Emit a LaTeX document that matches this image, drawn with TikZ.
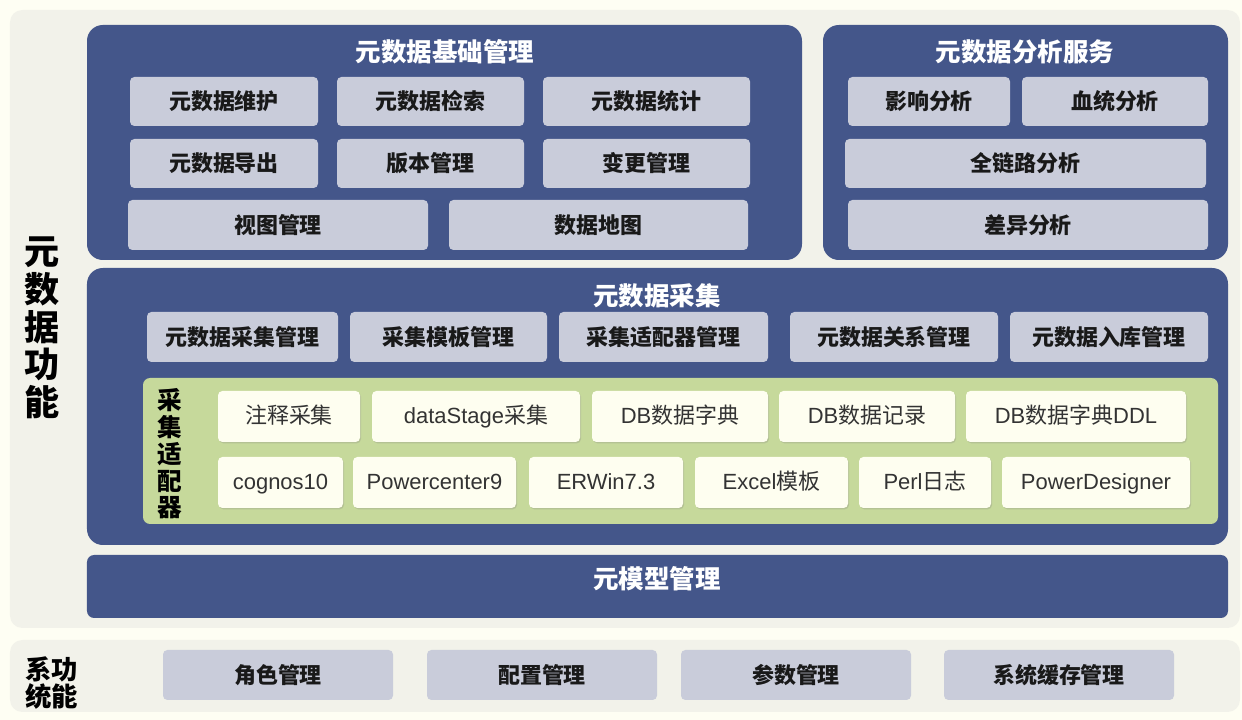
\documentclass[tikz,border=0pt]{standalone}
\usepackage{fontspec}
\setmainfont{Noto Sans CJK SC}
\newfontfamily\lat{Liberation Sans}
\usetikzlibrary{shadows}

\definecolor{bgcream}{HTML}{FEFEF3}
\definecolor{panelgray}{HTML}{F2F2EA}
\definecolor{darkblue}{HTML}{44568A}
\definecolor{subgray}{HTML}{C9CCDA}
\definecolor{adaptgreen}{HTML}{C6D99B}
\definecolor{adaptcream}{HTML}{FEFEF0}

\begin{document}
\begin{tikzpicture}[
  area/.style={fill=panelgray,rounded corners=7pt,inner sep=0pt,outer sep=0pt},
  layer/.style={fill=darkblue,rounded corners=9pt,inner sep=0pt,outer sep=0pt},
  title/.style={text=white,font=\fontsize{14.5}{16}\selectfont\bfseries},
  func/.style={fill=subgray,rounded corners=2.5pt,minimum height=0.98cm,inner sep=0pt,
    font=\fontsize{12.5}{14}\selectfont\bfseries,text=black!90},
  adapt/.style={fill=adaptcream,rounded corners=2.5pt,minimum height=1.02cm,inner sep=0pt,
    text height=9.8pt,text depth=2.2pt,
    font=\fontsize{12.5}{14}\selectfont,text=black!80,
    drop shadow={shadow xshift=0.6pt,shadow yshift=-0.8pt,opacity=0.25}},
  vlabel/.style={align=center,text=black,inner sep=0pt}
]

\fill[bgcream] (0,0) rectangle (24.84,14.4);
\useasboundingbox (0,0) rectangle (24.84,14.4);

% outer areas
\node[area,minimum width=24.6cm,minimum height=12.36cm] (meta) at (12.5,8.02) {};
\node[area,minimum width=24.6cm,minimum height=1.44cm] (sys) at (12.5,0.88) {};

\node[vlabel,font=\fontsize{20}{21.5}\selectfont\bfseries] (metalbl) at (0.84,7.84) {元\\数\\据\\功\\能};
\node[vlabel,font=\fontsize{15}{15.5}\selectfont\bfseries] (syslbl) at (1.04,0.74) {系功\\统能};

% basic management
\node[layer,minimum width=14.3cm,minimum height=4.7cm] (base) at (8.89,11.55) {};
\node[title] (basettl) at (8.9,13.36) {元数据基础管理};

\node[func,minimum width=3.76cm] (maint) at (4.48,12.37) {元数据维护};
\node[func,minimum width=3.74cm] (search) at (8.61,12.37) {元数据检索};
\node[func,minimum width=4.14cm] (stat) at (12.93,12.37) {元数据统计};
\node[func,minimum width=3.76cm] (export) at (4.48,11.13) {元数据导出};
\node[func,minimum width=3.74cm] (version) at (8.61,11.13) {版本管理};
\node[func,minimum width=4.14cm] (change) at (12.93,11.13) {变更管理};
\node[func,minimum width=6.0cm,minimum height=1.0cm] (view) at (5.56,9.9) {视图管理};
\node[func,minimum width=5.98cm,minimum height=1.0cm] (map) at (11.97,9.9) {数据地图};

% analysis service
\node[layer,minimum width=8.1cm,minimum height=4.7cm] (ana) at (20.51,11.55) {};
\node[title] (anattl) at (20.5,13.36) {元数据分析服务};

\node[func,minimum width=3.24cm] (impact) at (18.58,12.37) {影响分析};
\node[func,minimum width=3.72cm] (lineage) at (22.3,12.37) {血统分析};
\node[func,minimum width=7.22cm] (chain) at (20.51,11.13) {全链路分析};
\node[func,minimum width=7.2cm,minimum height=1.0cm] (diff) at (20.56,9.9) {差异分析};

% collection
\node[layer,minimum width=22.82cm,minimum height=5.54cm] (coll) at (13.15,6.27) {};
\node[title] (collttl) at (13.14,8.48) {元数据采集};

\node[func,minimum width=3.82cm,minimum height=1.0cm] (collmgr) at (4.85,7.66) {元数据采集管理};
\node[func,minimum width=3.94cm,minimum height=1.0cm] (tplmgr) at (8.97,7.66) {采集模板管理};
\node[func,minimum width=4.18cm,minimum height=1.0cm] (adpmgr) at (13.27,7.66) {采集适配器管理};
\node[func,minimum width=4.16cm,minimum height=1.0cm] (relmgr) at (17.88,7.66) {元数据关系管理};
\node[func,minimum width=3.96cm,minimum height=1.0cm] (loadmgr) at (22.18,7.66) {元数据入库管理};

% adapters
\node[fill=adaptgreen,rounded corners=4pt,minimum width=21.5cm,minimum height=2.92cm,inner sep=0pt] (adapters) at (13.61,5.38) {};
\node[vlabel,font=\fontsize{14}{15.2}\selectfont\bfseries] (adplbl) at (3.4,5.32) {采\\集\\适\\配\\器};

\node[adapt,minimum width=2.84cm] (comment) at (5.78,6.07) {注释采集};
\node[adapt,minimum width=4.16cm] (dstage) at (9.52,6.07) {{\lat dataStage}采集};
\node[adapt,minimum width=3.52cm] (dbdict) at (13.6,6.07) {{\lat DB}数据字典};
\node[adapt,minimum width=3.52cm] (dbrec) at (17.34,6.07) {{\lat DB}数据记录};
\node[adapt,minimum width=4.4cm] (dbddl) at (21.52,6.07) {{\lat DB}数据字典{\lat DDL}};

\node[adapt,minimum width=2.5cm,font=\fontsize{12.5}{14}\selectfont\lat] (cognos) at (5.61,4.75) {cognos10};
\node[adapt,minimum width=3.26cm,font=\fontsize{12.5}{14}\selectfont\lat] (pcenter) at (8.69,4.75) {Powercenter9};
\node[adapt,minimum width=3.08cm,font=\fontsize{12.5}{14}\selectfont\lat] (erwin) at (12.12,4.75) {ERWin7.3};
\node[adapt,minimum width=3.06cm] (excel) at (15.43,4.75) {{\lat Excel}模板};
\node[adapt,minimum width=2.64cm] (perl) at (18.5,4.75) {{\lat Perl}日志};
\node[adapt,minimum width=3.76cm,font=\fontsize{12.5}{14}\selectfont\lat] (pdesign) at (21.92,4.75) {PowerDesigner};

% meta model
\node[layer,rounded corners=4pt,minimum width=22.82cm,minimum height=1.26cm] (model) at (13.15,2.67) {};
\node[title] (modelttl) at (13.14,2.82) {元模型管理};

% system functions
\node[func,minimum width=4.6cm,minimum height=1.0cm] (role) at (5.56,0.9) {角色管理};
\node[func,minimum width=4.6cm,minimum height=1.0cm] (config) at (10.84,0.9) {配置管理};
\node[func,minimum width=4.6cm,minimum height=1.0cm] (param) at (15.92,0.9) {参数管理};
\node[func,minimum width=4.6cm,minimum height=1.0cm] (cache) at (21.18,0.9) {系统缓存管理};

\end{tikzpicture}
\end{document}
